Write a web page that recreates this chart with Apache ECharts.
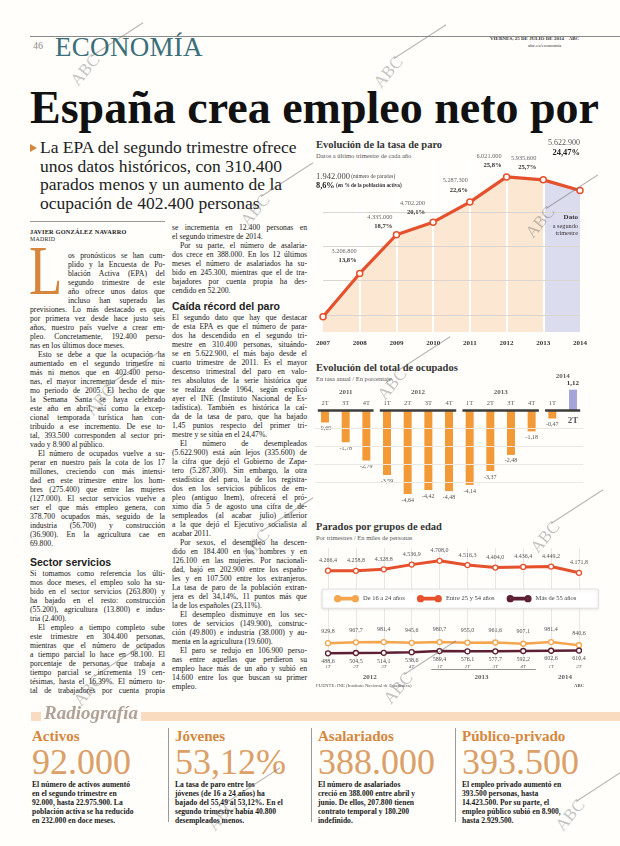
<!DOCTYPE html>
<html><head><meta charset="utf-8">
<script src="https://cdn.jsdelivr.net/npm/echarts@6/dist/echarts.min.js"></script>
<style>
body{margin:0;background:#fffefb;}
#page{position:relative;width:620px;height:846px;overflow:hidden;font-family:'Liberation Serif',serif;color:#222;}
.a{position:absolute;white-space:nowrap;}
.col{position:absolute;width:135px;font-size:7.7px;line-height:9px;color:#161616;}
.col .l{text-align:justify;text-align-last:justify;height:9px;overflow:visible;}
.col .e{text-align-last:left;}
.col .i{text-indent:8px;}
.col .n{margin-left:38px;}
.col h3{margin:0;font-family:'Liberation Sans',sans-serif;font-weight:bold;font-size:10.5px;color:#222;}
.rt{position:absolute;font-family:'Liberation Serif',serif;}
.rt .t{font-weight:bold;font-size:15px;line-height:15px;color:#d6863c;}
.rt .b{font-size:36px;line-height:36px;color:#dba067;}
.rt .d{font-weight:bold;font-size:7.6px;line-height:9px;color:#1a1a1a;white-space:nowrap;}
.sep{position:absolute;width:1px;background:#9a9a9a;top:728px;height:94px;}
.ct{position:absolute;font-weight:bold;font-size:10.5px;color:#333;white-space:nowrap;}
.cs{position:absolute;font-size:6.5px;color:#555;white-space:nowrap;}
#c1{position:absolute;left:310px;top:135px;width:310px;height:220px;}
#c2{position:absolute;left:310px;top:355px;width:310px;height:160px;}
#c3{position:absolute;left:310px;top:515px;width:310px;height:175px;}
.wm{position:absolute;width:0;height:0;z-index:20;pointer-events:none;}
.wm span{position:absolute;left:0;top:0;transform:translate(-50%,-50%) rotate(-50deg);font-family:'Liberation Serif',serif;font-size:17px;line-height:17px;color:rgba(110,110,110,0.42);white-space:nowrap;}
.wm i{position:absolute;left:6px;top:-14px;width:62px;height:0.8px;background:rgba(110,110,110,0.5);transform:rotate(-33deg);transform-origin:left center;}
</style></head>
<body>
<div id="page">
<!-- header -->
<div class="a" style="left:30px;top:36px;width:590px;height:1px;background:#8a8a8a;"></div>
<div class="a" style="left:33px;top:40px;font-size:10px;color:#8a8a8a;">46</div>
<div class="a" style="left:55px;top:33px;font-size:27px;line-height:28px;color:#3b6e78;letter-spacing:0.3px;">ECONOMÍA</div>
<div class="a" style="left:490px;top:36px;font-size:5px;font-weight:bold;color:#333;">VIERNES, 25 DE JULIO DE 2014 &nbsp;&nbsp; ABC</div>
<div class="a" style="left:528px;top:43px;font-size:5px;color:#333;">abc.es/economia</div>
<!-- headline -->
<div class="a" style="left:30px;top:85px;font-size:46px;line-height:46px;font-weight:bold;color:#111;">España crea empleo neto por</div>
<div class="a" style="left:30px;top:138px;font-size:17.5px;line-height:18.5px;color:#222;">
<div><span style="display:inline-block;width:0;height:0;border-left:7px solid #d6863c;border-top:4.5px solid transparent;border-bottom:4.5px solid transparent;margin-right:3px;vertical-align:1px;"></span>La EPA del segundo trimestre ofrece</div>
<div style="margin-left:10px;">unos datos históricos, con 310.400</div>
<div style="margin-left:10px;">parados menos y un aumento de la</div>
<div style="margin-left:10px;">ocupación de 402.400 personas</div>
</div>
<div class="a" style="left:30px;top:221px;width:135px;height:1px;background:#999;"></div>
<div class="a" style="left:30px;top:228px;font-size:6.3px;font-weight:bold;letter-spacing:0.2px;">JAVIER GONZÁLEZ NAVARRO</div>
<div class="a" style="left:30px;top:236px;font-size:5.8px;letter-spacing:0.3px;">MADRID</div>
<!-- drop cap -->
<div class="a" style="left:29px;top:236px;font-size:70px;line-height:70px;color:#d6863c;transform:scaleX(0.78);transform-origin:left top;">L</div>
<!-- column 1 -->
<div class="col" style="left:30px;top:250.5px;">
<div class="l n" style="width:97px">os pronósticos se han cum-</div>
<div class="l n" style="width:97px">plido y la Encuesta de Po-</div>
<div class="l n" style="width:97px">blación Activa (EPA) del</div>
<div class="l n" style="width:97px">segundo trimestre de este</div>
<div class="l n" style="width:97px">año ofrece unos datos que</div>
<div class="l n" style="width:97px">incluso han superado las</div>
<div class="l">previsiones. Lo más destacado es que,</div>
<div class="l">por primera vez desde hace justo seis</div>
<div class="l">años, nuestro país vuelve a crear em-</div>
<div class="l">pleo. Concretamente, 192.400 perso-</div>
<div class="l e">nas en los últimos doce meses.</div>
<div class="l i">Esto se debe a que la ocupación ha</div>
<div class="l">aumentado en el segundo trimestre ni</div>
<div class="l">más ni menos que en 402.400 perso-</div>
<div class="l">nas, el mayor incremento desde el mis-</div>
<div class="l">mo periodo de 2005. El hecho de que</div>
<div class="l">la Semana Santa se haya celebrado</div>
<div class="l">este año en abril, así como la excep-</div>
<div class="l">cional temporada turística han con-</div>
<div class="l">tribuido a ese incremento. De ese to-</div>
<div class="l">tal, 393.500 corresponden al sector pri-</div>
<div class="l e">vado y 8.900 al público.</div>
<div class="l i">El número de ocupados vuelve a su-</div>
<div class="l">perar en nuestro país la cota de los 17</div>
<div class="l">millones, creciendo con más intensi-</div>
<div class="l">dad en este trimestre entre los hom-</div>
<div class="l">bres (275.400) que entre las mujeres</div>
<div class="l">(127.000). El sector servicios vuelve a</div>
<div class="l">ser el que más empleo genera, con</div>
<div class="l">378.700 ocupados más, seguido de la</div>
<div class="l">industria (56.700) y construcción</div>
<div class="l">(36.900). En la agricultura cae en</div>
<div class="l e">69.800.</div>
<h3 style="padding-top:8px;height:13px;line-height:13px;">Sector servicios</h3>
<div class="l">Si tomamos como referencia los últi-</div>
<div class="l">mos doce meses, el empleo solo ha su-</div>
<div class="l">bido en el sector servicios (263.800) y</div>
<div class="l">ha bajado en el resto: construcción</div>
<div class="l">(55.200), agricultura (13.800) e indus-</div>
<div class="l e">tria (2.400).</div>
<div class="l i">El empleo a tiempo completo sube</div>
<div class="l">este trimestre en 304.400 personas,</div>
<div class="l">mientras que el número de ocupados</div>
<div class="l">a tiempo parcial lo hace en 98.100. El</div>
<div class="l">porcentaje de personas que trabaja a</div>
<div class="l">tiempo parcial se incrementa 19 cen-</div>
<div class="l">tésimas, hasta el 16,39%. El número to-</div>
<div class="l">tal de trabajadores por cuenta propia</div>
</div>
<!-- column 2 -->
<div class="col" style="left:172px;top:222.5px;">
<div class="l">se incrementa en 12.400 personas en</div>
<div class="l e">el segundo trimestre de 2014.</div>
<div class="l i">Por su parte, el número de asalaria-</div>
<div class="l">dos crece en 388.000. En los 12 últimos</div>
<div class="l">meses el número de asalariados ha su-</div>
<div class="l">bido en 245.300, mientras que el de tra-</div>
<div class="l">bajadores por cuenta propia ha des-</div>
<div class="l e">cendido en 52.200.</div>
<h3 style="padding-top:5px;height:13px;line-height:13px;">Caída récord del paro</h3>
<div class="l">El segundo dato que hay que destacar</div>
<div class="l">de esta EPA es que el número de para-</div>
<div class="l">dos ha descendido en el segundo tri-</div>
<div class="l">mestre en 310.400 personas, situándo-</div>
<div class="l">se en 5.622.900, el más bajo desde el</div>
<div class="l">cuarto trimestre de 2011. Es el mayor</div>
<div class="l">descenso trimestral del paro en valo-</div>
<div class="l">res absolutos de la serie histórica que</div>
<div class="l">se realiza desde 1964, según explicó</div>
<div class="l">ayer el INE (Instituto Nacional de Es-</div>
<div class="l">tadística). También es histórica la caí-</div>
<div class="l">da de la tasa de paro, que ha bajado</div>
<div class="l">1,45 puntos respecto del primer tri-</div>
<div class="l e">mestre y se sitúa en el 24,47%.</div>
<div class="l i">El número de desempleados</div>
<div class="l">(5.622.900) está aún lejos (335.600) de</div>
<div class="l">la cifra que dejó el Gobierno de Zapa-</div>
<div class="l">tero (5.287.300). Sin embargo, la otra</div>
<div class="l">estadística del paro, la de los registra-</div>
<div class="l">dos en los servicios públicos de em-</div>
<div class="l">pleo (antiguo Inem), ofrecerá el pró-</div>
<div class="l">ximo día 5 de agosto una cifra de de-</div>
<div class="l">sempleados (al acabar julio) inferior</div>
<div class="l">a la que dejó el Ejecutivo socialista al</div>
<div class="l e">acabar 2011.</div>
<div class="l i">Por sexos, el desempleo ha descen-</div>
<div class="l">dido en 184.400 en los hombres y en</div>
<div class="l">126.100 en las mujeres. Por nacionali-</div>
<div class="l">dad, bajó en 202.900 entre los españo-</div>
<div class="l">les y en 107.500 entre los extranjeros.</div>
<div class="l">La tasa de paro de la población extran-</div>
<div class="l">jera es del 34,14%, 11 puntos más que</div>
<div class="l e">la de los españoles (23,11%).</div>
<div class="l i">El desempleo disminuye en los sec-</div>
<div class="l">tores de servicios (149.900), construc-</div>
<div class="l">ción (49.800) e industria (38.000) y au-</div>
<div class="l e">menta en la agricultura (19.600).</div>
<div class="l i">El paro se redujo en 106.900 perso-</div>
<div class="l">nas entre aquellas que perdieron su</div>
<div class="l">empleo hace más de un año y subió en</div>
<div class="l">14.600 entre los que buscan su primer</div>
<div class="l e">empleo.</div>
</div>
<!-- chart titles -->
<div class="ct" style="left:316px;top:139px;">Evolución de la tasa de paro</div>
<div class="cs" style="left:316px;top:152px;">Datos a último trimestre de cada año</div>
<div class="ct" style="left:316px;top:362px;">Evolución del total de ocupados</div>
<div class="cs" style="left:316px;top:375px;">En tasa anual / En porcentaje</div>
<div class="ct" style="left:316px;top:521px;">Parados por grupos de edad</div>
<div class="cs" style="left:316px;top:534px;">Por trimestres / En miles de personas</div>
<div id="c1"></div><div id="c2"></div><div id="c3"></div>
<div class="a" style="left:540px;top:213px;width:38px;text-align:right;font-size:6.3px;line-height:7.5px;color:#333;z-index:5;"><b style="font-size:7px">Dato</b><br>a segundo<br>trimestre</div>
<div class="a" style="left:316px;top:683px;font-size:4.8px;color:#555;">FUENTE: INE (Instituto Nacional de Estadística)</div>
<div class="a" style="left:574px;top:683px;font-size:4.8px;font-weight:bold;color:#555;">ABC</div>
<!-- Radiografía -->
<div class="a" style="left:31px;top:712px;width:10px;height:9px;background:#f9dcc0;"></div>
<div class="a" style="left:141px;top:712px;width:479px;height:9px;background:#f9dcc0;"></div>
<div class="a" style="left:44px;top:702px;font-size:19px;line-height:22px;font-weight:bold;font-style:italic;color:#b1a196;">Radiografía</div>
<div class="rt" style="left:32px;top:728.5px;"><div class="t">Activos</div><div class="b">92.000</div>
<div class="d">El número de activos aumentó<br>en el segundo trimestre en<br>92.000, hasta 22.975.900. La<br>población activa se ha reducido<br>en 232.000 en doce meses.</div></div>
<div class="sep" style="left:168px;"></div>
<div class="rt" style="left:175px;top:728.5px;"><div class="t">Jóvenes</div><div class="b">53,12%</div>
<div class="d">La tasa de paro entre los<br>jóvenes (de 16 a 24 años) ha<br>bajado del 55,49 al 53,12%. En el<br>segundo trimestre había 40.800<br>desempleados menos.</div></div>
<div class="sep" style="left:311px;"></div>
<div class="rt" style="left:318px;top:728.5px;"><div class="t">Asalariados</div><div class="b">388.000</div>
<div class="d">El número de asalariados<br>creció en 388.000 entre abril y<br>junio. De ellos, 207.800 tienen<br>contrato temporal y 180.200<br>indefinido.</div></div>
<div class="sep" style="left:455px;"></div>
<div class="rt" style="left:462px;top:728.5px;"><div class="t">Público-privado</div><div class="b">393.500</div>
<div class="d">El empleo privado aumentó en<br>393.500 personas, hasta<br>14.423.500. Por su parte, el<br>empleo público subió en 8.900,<br>hasta 2.929.500.</div></div>
</div>
<script>
// ---------- DATA ----------
const years1 = ['2007','2008','2009','2010','2011','2012','2013','2014'];
const parados1 = [1942000, 3206800, 4335000, 4702200, 5287300, 6021000, 5935600, 5622900];
const tasa1 = [8.6, 13.8, 18.7, 20.1, 22.6, 25.8, 25.7, 24.47];

const quarters2 = ['2T','3T','4T','1T','2T','3T','4T','1T','2T','3T','4T','1T','2T'];
const groups2 = [['2011',3],['2012',4],['2013',4],['2014',2]];
const ocupados2 = [-0.69, -1.78, -2.79, -3.59, -4.64, -4.42, -4.48, -4.14, -3.37, -2.48, -1.18, -0.47, 1.12];

const quarters3 = ['1T','2T','3T','4T','1T','2T','3T','4T','1T','2T'];
const groups3 = [['2012',4],['2013',4],['2014',2]];
const names3 = ['De 16 a 24 años','Entre 25 y 54 años','Más de 55 años'];
const age16_24 = [929.8, 967.7, 981.4, 945.6, 980.7, 955.0, 961.6, 907.1, 981.4, 840.6];
const age25_54 = [4266.4, 4258.8, 4328.8, 4536.9, 4708.0, 4516.3, 4404.0, 4436.4, 4449.2, 4171.8];
const age55 = [488.6, 504.5, 514.1, 538.6, 589.4, 576.1, 577.7, 592.2, 602.6, 610.4];

// ---------- watermarks (decorative scan marks) ----------
const watermarkSpots = [[85,70],[388,72],[255,210],[540,222],[392,384],[100,400],[255,545],[545,537],[88,690],[398,688],[222,815],[570,815]];
watermarkSpots.forEach(([x,y])=>{
  const d=document.createElement('div'); d.className='wm'; d.style.left=x+'px'; d.style.top=y+'px';
  d.innerHTML='<span>ABC</span><i></i>'; document.getElementById('page').appendChild(d);
});

// ---------- helpers ----------
function esNum(v, dec){
  let s = v.toFixed(dec); let [i,d] = s.split('.');
  let neg = i[0]==='-'; if(neg) i=i.slice(1);
  i = i.replace(/\B(?=(\d{3})+(?!\d))/g,'.');
  return (neg?'-':'')+i+(d?','+d:'');
}
const SERIF = 'Liberation Serif';
const ORANGE = '#e5502d';

// ---------- CHART 1 ----------
(function(){
  const c = echarts.init(document.getElementById('c1'), null, {renderer:'canvas'});
  const vals = parados1.map(v=>v/1e6);
  const last = vals.length-1;
  const offs = [[-7,-118],[-3,0],[-4,5],[-8,3],[-2,1],[-5,2],[-7,1],[0,-24]];
  const mainData = vals.map((v,i)=>{
    let fmt;
    if(i===0) fmt = '{big|'+esNum(parados1[i],0)+'}{sm| (número de parados)}\n{bigb|'+String(tasa1[i]).replace('.',',')+'%}{smb| (en % de la población activa)}';
    else if(i===last) fmt = '{n2|'+esNum(parados1[i],0)+'}\n{p2|'+String(tasa1[i]).replace('.',',')+'%}';
    else fmt = '{n|'+esNum(parados1[i],0)+'}\n{p|'+String(tasa1[i]).replace('.',',')+'%}';
    return {value:v, label:{formatter:fmt, offset:offs[i], align: i===0?'left':'right'}};
  });
  c.setOption({
    animation:false,
    grid:{left:13,right:40,top:25.5,height:171.5},
    xAxis:{type:'category',data:years1,boundaryGap:false,axisLine:{show:false},axisTick:{show:false},
      axisLabel:{fontFamily:SERIF,fontWeight:'bold',fontSize:7,color:'#333',margin:8},splitLine:{show:false}},
    yAxis:{type:'value',min:1.5,max:6.5,show:false},
    series:[
      {type:'line',data:vals.map((v,i)=>i<=last-1?v:null),symbol:'none',lineStyle:{width:0},
        areaStyle:{color:'#fce8d2',opacity:1},z:1,silent:true},
      {type:'line',data:vals.map((v,i)=>i>=last-1?v:null),symbol:'none',lineStyle:{width:0},
        areaStyle:{color:'#dcdcef',opacity:1},z:1,silent:true},
      {type:'line',data:[],z:2,silent:true,
        markLine:{silent:true,symbol:'none',label:{show:false},lineStyle:{color:'#ffffff',width:2,type:'solid'},
          data:years1.slice(1,last).map(y=>({xAxis:y}))}},
      {type:'line',data:[],z:3,silent:true,
        markLine:{silent:true,symbol:'none',label:{show:false},lineStyle:{color:'#d9d6d2',width:1,type:'solid'},
          data:[2,3,4,5].map(y=>({yAxis:y}))}},
      {type:'line',data:mainData,z:5,symbol:'circle',symbolSize:6,
        lineStyle:{color:ORANGE,width:3.2},itemStyle:{color:'#fff',borderColor:ORANGE,borderWidth:1.5},
        label:{show:true,position:'top',distance:5,verticalAlign:'bottom',fontFamily:SERIF,
          rich:{
            n:{fontSize:6.3,color:'#666',fontFamily:SERIF,lineHeight:9,align:'right'},
            p:{fontSize:6.6,color:'#333',fontWeight:'bold',fontFamily:SERIF,lineHeight:9,align:'right'},
            n2:{fontSize:8,color:'#555',fontFamily:SERIF,lineHeight:10,align:'right'},
            p2:{fontSize:8.5,color:'#222',fontWeight:'bold',fontFamily:SERIF,lineHeight:10,align:'right'},
            big:{fontSize:8.5,color:'#444',fontFamily:SERIF,lineHeight:9},
            sm:{fontSize:5.3,color:'#444',fontFamily:SERIF,lineHeight:9},
            bigb:{fontSize:8.3,color:'#222',fontWeight:'bold',fontFamily:SERIF,lineHeight:9},
            smb:{fontSize:5.3,color:'#333',fontWeight:'bold',fontFamily:SERIF,lineHeight:9}
          }}}
    ]
  });
})();

// ---------- CHART 2 ----------
(function(){
  const c = echarts.init(document.getElementById('c2'));
  let start = 0; const segs=[], yearPts=[];
  groups2.forEach(([y,n],gi)=>{
    const s=start, e=start+n-1;
    segs.push([{coord:[s-0.35,0]},{coord:[e+0.35,0]}]);
    const last = gi===groups2.length-1;
    yearPts.push({value:[(s+e)/2, last?1.85:1.0], name:y});
    start += n;
  });
  const barData = ocupados2.map((v,i)=>({value:[i,v],
    itemStyle:{color: v>=0?'#a4a4d8':'#f39a38'},
    label:{position: v>=0?'top':'bottom', fontWeight: v>=0?'bold':'normal', color: v>=0?'#333':'#555', fontSize: v>=0?7:6}}));
  const qData = quarters2.map((q,i)=>{
    const lastQ = i===quarters2.length-1;
    return {value:[i,0], name:q, label: lastQ?{position:'bottom',distance:6,fontSize:9,fontWeight:'bold'}:{}};
  });
  c.setOption({
    animation:false,
    grid:{left:4.7,right:36.7,top:18.8,height:126.7},
    xAxis:{type:'value',min:-0.5,max:12.5,show:false},
    yAxis:{type:'value',min:-5,max:2,show:false},
    series:[
      {type:'line',data:[],z:1,silent:true,
        markLine:{silent:true,symbol:'none',label:{show:false},lineStyle:{color:'#ebe8e4',width:1,type:'solid'},
          data:[-1,-2,-3,-4].map(y=>({yAxis:y}))}},
      {type:'bar',data:barData,barWidth:8,z:2,
        label:{show:true,distance:3,fontFamily:SERIF,formatter:p=>esNum(p.value[1],2)}},
      {type:'line',data:[],z:3,silent:true,
        markLine:{silent:true,symbol:'none',label:{show:false},lineStyle:{color:'#3c3c3c',width:2.6,type:'solid'},data:segs}},
      {type:'scatter',data:qData,symbolSize:0,z:4,silent:true,
        label:{show:true,position:'top',distance:3,formatter:'{b}',fontFamily:SERIF,fontSize:6.5,color:'#333'}},
      {type:'scatter',data:yearPts,symbolSize:0,z:4,silent:true,
        label:{show:true,position:'inside',formatter:'{b}',fontFamily:SERIF,fontSize:7,fontWeight:'bold',color:'#333'}}
    ]
  });
})();

// ---------- CHART 3 ----------
(function(){
  const c = echarts.init(document.getElementById('c3'));
  const n = quarters3.length;
  const xa = (gi,show)=>({type:'value',min:0,max:n-1,interval:1,gridIndex:gi,axisLine:{show:false},axisTick:{show:false},axisLabel:{show:false},
     splitLine:{show:!!show,lineStyle:{color:'#e9e7e4',width:1}}});
  const ya = (gi,mn,mx)=>({type:'value',min:mn,max:mx,gridIndex:gi,show:false});
  let start=0; const segs=[], yearPts=[];
  groups3.forEach(([y,k])=>{
    const s=start,e=start+k-1;
    segs.push([{coord:[s-0.3,0.58]},{coord:[Math.min(e+0.45,n-1+0.15),0.58]}]);
    yearPts.push({value:[(s+e)/2,0.15],name:y});
    start+=k;
  });
  const qPts = quarters3.map((q,i)=>({value:[i,0.76],name:q}));
  const mk = (arr)=>arr.map((v,i)=>[i,v]);
  const icon = 'path://M0,3a3,3 0 1,1 6,0a3,3 0 1,1 -6,0ZM1.6,3a1.4,1.4 0 1,0 2.8,0a1.4,1.4 0 1,0 -2.8,0ZM5.5,2L20.5,2L20.5,4L5.5,4ZM20,3a3,3 0 1,1 6,0a3,3 0 1,1 -6,0ZM21.6,3a1.4,1.4 0 1,0 2.8,0a1.4,1.4 0 1,0 -2.8,0Z';
  const lineS = (name,data,xi,color,lw,pos,dist)=>({type:'line',name,data:mk(data),xAxisIndex:xi,yAxisIndex:xi,
    symbol:'circle',symbolSize:5,lineStyle:{color,width:lw},itemStyle:{color:'#fff',borderColor:color,borderWidth:1.3},
    label:{show:true,position:pos,distance:dist,fontFamily:SERIF,fontSize:6,color:'#555',formatter:p=>esNum(p.value[1],1)},z:5});
  c.setOption({
    animation:false,
    color:['#f4a54e',ORANGE,'#5c1f33'],
    legend:{data:names3.map(nm=>({name:nm,icon})),left:12,top:74,itemWidth:23,itemHeight:6,itemGap:12,
      padding:[6,22,6,12],backgroundColor:'#ffffff',borderColor:'#e4e2df',borderWidth:1,
      shadowBlur:3,shadowColor:'rgba(0,0,0,0.12)',shadowOffsetY:1,
      textStyle:{fontFamily:SERIF,fontSize:6.5,color:'#444'}},
    grid:[
      {left:18,right:41,top:33,height:114},
      {left:18,right:41,top:37,height:26.9},
      {left:18,right:41,top:119.7,height:23},
      {left:18,right:41,top:147,height:18}
    ],
    xAxis:[xa(0,true),xa(1),xa(2),xa(3)],
    yAxis:[ya(0,0,1),ya(1,3900,5100),ya(2,300,1300),ya(3,0,1)],
    series:[
      lineS(names3[1],age25_54,1,ORANGE,3,'top',4),
      lineS(names3[0],age16_24,2,'#f4a54e',2.5,'top',6),
      lineS(names3[2],age55,2,'#5c1f33',2.5,'bottom',2),
      {type:'scatter',data:qPts,xAxisIndex:3,yAxisIndex:3,symbolSize:0,silent:true,
        label:{show:true,position:'inside',formatter:'{b}',fontFamily:SERIF,fontStyle:'italic',fontSize:5,color:'#333'},
        markLine:{silent:true,symbol:'none',label:{show:false},lineStyle:{color:'#777',width:0.8,type:'solid'},data:segs}},
      {type:'scatter',data:yearPts,xAxisIndex:3,yAxisIndex:3,symbolSize:0,silent:true,
        label:{show:true,position:'inside',formatter:'{b}',fontFamily:SERIF,fontWeight:'bold',fontSize:7,color:'#333'}}
    ]
  });
})();
</script>
</body></html>
